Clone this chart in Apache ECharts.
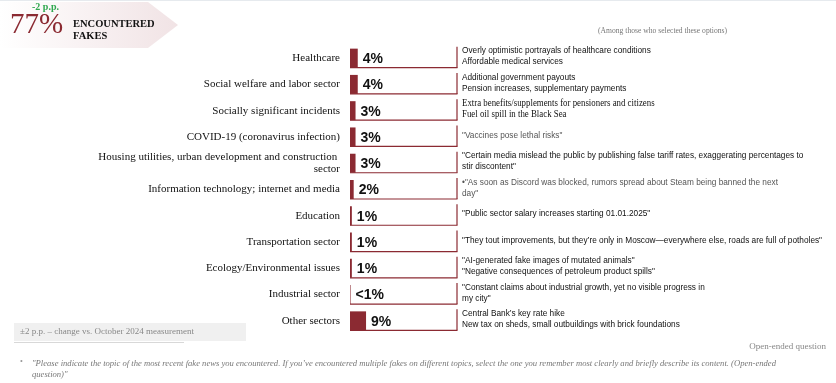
<!DOCTYPE html>
<html><head><meta charset="utf-8">
<script src="https://cdn.jsdelivr.net/npm/echarts@6/dist/echarts.min.js"></script>
<style>html,body{margin:0;padding:0;background:#fff}#c{width:836px;height:383px}</style>
</head><body><div id="c"></div>
<script>
const categories = [
  "Healthcare",
  "Social welfare and labor sector",
  "Socially significant incidents",
  "COVID-19 (coronavirus infection)",
  "Housing utilities, urban development and construction sector",
  "Information technology; internet and media",
  "Education",
  "Transportation sector",
  "Ecology/Environmental issues",
  "Industrial sector",
  "Other sectors"
];
const values = [4.2, 4.2, 3, 3, 3, 2, 1, 1, 1, 0.3, 8.7];
const valueLabels = ["4%", "4%", "3%", "3%", "3%", "2%", "1%", "1%", "1%", "<1%", "9%"];
const comments = [
  ["Overly optimistic portrayals of healthcare conditions", "Affordable medical services"],
  ["Additional government payouts", "Pension increases, supplementary payments"],
  ["Extra benefits/supplements for pensioners and citizens", "Fuel oil spill in the Black Sea"],
  ["\"Vaccines pose lethal risks\""],
  ["\"Certain media mislead the public by publishing false tariff rates, exaggerating percentages to", "stir discontent\""],
  ["•\"As soon as Discord was blocked, rumors spread about Steam being banned the next", "day\""],
  ["\"Public sector salary increases starting 01.01.2025\""],
  ["\"They tout improvements, but they’re only in Moscow—everywhere else, roads are full of potholes\""],
  ["\"AI-generated fake images of mutated animals\"", "\"Negative consequences of petroleum product spills\""],
  ["\"Constant claims about industrial growth, yet no visible progress in", "my city\""],
  ["Central Bank’s key rate hike", "New tax on sheds, small outbuildings with brick foundations"]
];
const headline = "77%";
const headlineChange = "-2 p.p.";
const headlineTitle = ["ENCOUNTERED", "FAKES"];
const subtitle = "(Among those who selected these options)";
const legendNote = "±2 p.p. – change vs. October 2024 measurement";
const questionType = "Open-ended question";
const footnoteLines = [
  "\"Please indicate the topic of the most recent fake news you encountered. If you’ve encountered multiple fakes on different topics, select the one you remember most clearly and briefly describe its content. (Open-ended",
  "question)\""
];

const XMAX = 58;
const RED = '#8b2a32';
const serifRows = new Set(["Socially significant incidents"]);
const greyRows = new Set(["COVID-19 (coronavirus infection)", "Information technology; internet and media"]);
const SANS = "'Liberation Sans',Arial,sans-serif";
const SERIF = "'Liberation Serif','Times New Roman',serif";

const chart = echarts.init(document.getElementById('c'), null, {renderer: 'canvas'});

const option = {
  animation: false,
  grid: {left: 350, top: 45, width: 107, height: 289},
  xAxis: {type: 'value', min: 0, max: XMAX, show: false},
  yAxis: {
    type: 'category', inverse: true, data: categories,
    axisLine: {show: false}, axisTick: {show: false}, splitLine: {show: false},
    axisLabel: {margin: 10, fontFamily: SERIF, fontSize: 11, color: '#111', lineHeight: 12.6,
      width: 262, overflow: 'break', align: 'right'}
  },
  series: [
    {
      type: 'custom', z: 1,
      data: categories.map((c, i) => [XMAX, i]),
      encode: {x: 0, y: 1},
      renderItem: function (params, api) {
        const i = params.dataIndex;
        const p0 = api.coord([0, i]);
        const p1 = api.coord([XMAX, i]);
        const y = p0[1];
        const bot = y + 9.5;
        const cat = categories[i];
        const lines = comments[i];
        const isSerif = serifRows.has(cat);
        return {
          type: 'group',
          children: [
            {type: 'line', shape: {x1: p0[0], y1: bot, x2: p1[0] + 0.5, y2: bot}, style: {stroke: RED, lineWidth: 1.2}},
            {type: 'line', shape: {x1: p1[0], y1: y - 11.5, x2: p1[0], y2: bot}, style: {stroke: RED, lineWidth: 1.2}},
            {type: 'text', x: p1[0] + 5, y: y - 2, scaleX: isSerif ? 0.93 : 0.87,
              style: {text: lines.join('\n'), fill: greyRows.has(cat) ? '#555' : '#111',
                font: (isSerif ? '9.5px ' + SERIF : '9.5px ' + SANS), lineHeight: 11,
                verticalAlign: 'middle', align: 'left'}}
          ]
        };
      }
    },
    {
      type: 'bar', z: 2, barWidth: 19,
      data: values,
      itemStyle: {color: RED},
      label: {show: true, position: 'right', distance: 5,
        formatter: p => valueLabels[p.dataIndex],
        fontFamily: SANS, fontWeight: 'bold', fontSize: 14, color: '#111', offset: [0, 1]}
    }
  ],
  graphic: [
    {type: 'line', shape: {x1: 0, y1: 0.5, x2: 836, y2: 0.5}, style: {stroke: '#e6eaee', lineWidth: 1}},
    {type: 'polygon', shape: {points: [[0, 2], [148, 2], [178, 25], [148, 48], [0, 48]]},
      style: {fill: new echarts.graphic.LinearGradient(0, 0, 1, 0, [{offset: 0, color: '#ffffff'}, {offset: 1, color: '#f1e3e5'}])}},
    {type: 'text', x: 10, y: 11, style: {text: headline, font: '29px ' + SERIF, fill: RED}},
    {type: 'text', x: 32, y: 2, style: {text: headlineChange, font: 'bold 10px ' + SERIF, fill: '#2fa84f'}},
    {type: 'text', x: 73, y: 18, style: {text: headlineTitle.join('\n'), font: 'bold 10.5px ' + SERIF, fill: '#111', lineHeight: 12.5}},
    {type: 'text', x: 727, y: 27, scaleX: 0.95, style: {text: subtitle, font: '8px ' + SERIF, fill: '#777', align: 'right'}},
    {type: 'rect', shape: {x: 14, y: 323, width: 232, height: 18}, style: {fill: '#f0f0f0'}},
    {type: 'text', x: 20, y: 327.5, style: {text: legendNote, font: '9px ' + SERIF, fill: '#888'}},
    {type: 'line', shape: {x1: 14, y1: 342.5, x2: 184, y2: 342.5}, style: {stroke: '#d8d8d8', lineWidth: 1}},
    {type: 'text', x: 826, y: 342, style: {text: questionType, font: '9px ' + SERIF, fill: '#888', align: 'right'}},
    {type: 'text', x: 20, y: 358, style: {text: '•', font: '8px ' + SERIF, fill: '#999'}},
    {type: 'text', x: 32, y: 358, style: {text: footnoteLines.join('\n'), font: 'italic 8.6px ' + SERIF, fill: '#777', lineHeight: 11}}
  ]
};
chart.setOption(option);
</script>
</body></html>
